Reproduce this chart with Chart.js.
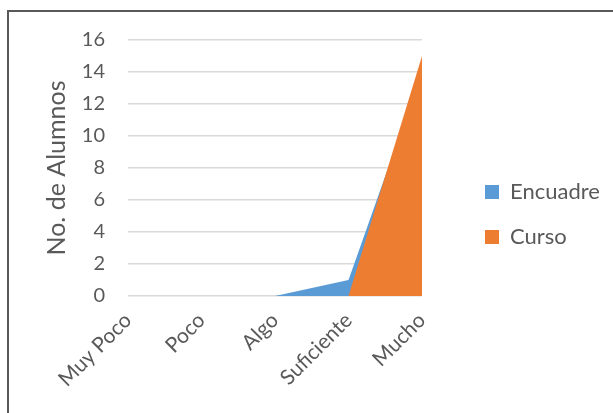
<!DOCTYPE html>
<html>
<head>
<meta charset="utf-8">
<script src="https://cdn.jsdelivr.net/npm/chart.js@4/dist/chart.umd.min.js"></script>
<style>
    html, body { margin: 0; padding: 0; background: #fff; overflow: hidden; }
    #marco {
        position: absolute; left: 7px; top: 10px;
        width: 700px; height: 500px;
        border-left: 2px solid #595959; border-top: 2px solid #595959;
    }
    #lienzo { position: absolute; left: 0; top: 0; }
</style>
</head>
<body>
<div id="marco"></div>
<canvas id="lienzo" width="613" height="413"></canvas>
<script>
// categorias de la escala y respuestas por serie
const categorias = ['Muy Poco', 'Poco', 'Algo', 'Suficiente', 'Mucho'];
const encuadre = [0, 0, 0, 1, 14];
const curso = [0, 0, 0, 0, 15];
const marcasY = [0, 2, 4, 6, 8, 10, 12, 14, 16];

const gris = '#595959';
const fuente = 'Lato, "Open Sans", sans-serif';

new Chart(document.getElementById('lienzo'), {
    type: 'line',
    data: {
        labels: categorias,
        datasets: [
            {
                label: 'Encuadre',
                data: encuadre,
                backgroundColor: '#5B9BD5',
                borderWidth: 0,
                pointRadius: 0,
                fill: 'origin',
                order: 1
            },
            {
                // curso se dibuja encima
                label: 'Curso',
                data: curso,
                backgroundColor: '#ED7D31',
                borderWidth: 0,
                pointRadius: 0,
                fill: 'origin',
                order: 0
            }
        ]
    },
    options: {
        responsive: false,
        animation: false,
        layout: { padding: { top: 40, right: 6, bottom: 24, left: 0 } },
        plugins: {
            tooltip: { enabled: false },
            legend: {
                position: 'right',
                maxWidth: 145,
                labels: {
                    boxWidth: 14,
                    boxHeight: 14,
                    padding: 23,
                    color: gris,
                    font: { family: fuente, size: 22 },
                    sort: (a, b) => a.datasetIndex - b.datasetIndex
                }
            }
        },
        scales: {
            x: {
                grid: { display: false, drawTicks: false },
                border: { display: false },
                ticks: {
                    minRotation: 45,
                    maxRotation: 45,
                    padding: 12,
                    color: gris,
                    font: { family: fuente, size: 21 }
                },
                afterFit: s => { s.height = 93; }
            },
            y: {
                min: 0,
                max: 16,
                afterBuildTicks: s => { s.ticks = marcasY.map(v => ({ value: v })); },
                grid: { color: '#D9D9D9', lineWidth: 1.5, drawTicks: false },
                border: { display: false },
                ticks: {
                    padding: 23,
                    color: gris,
                    font: { family: fuente, size: 20 }
                },
                title: {
                    display: true,
                    text: 'No. de Alumnos',
                    color: gris,
                    font: { family: fuente, size: 25 },
                    padding: { top: 42, bottom: 0 }
                },
                afterFit: s => { s.width = 128; }
            },
            // separacion entre el area y la leyenda
            y2: {
                type: 'linear',
                position: 'right',
                grid: { display: false },
                border: { display: false },
                ticks: { display: false },
                afterFit: s => { s.width = 40; }
            }
        }
    }
});
</script>
</body>
</html>
